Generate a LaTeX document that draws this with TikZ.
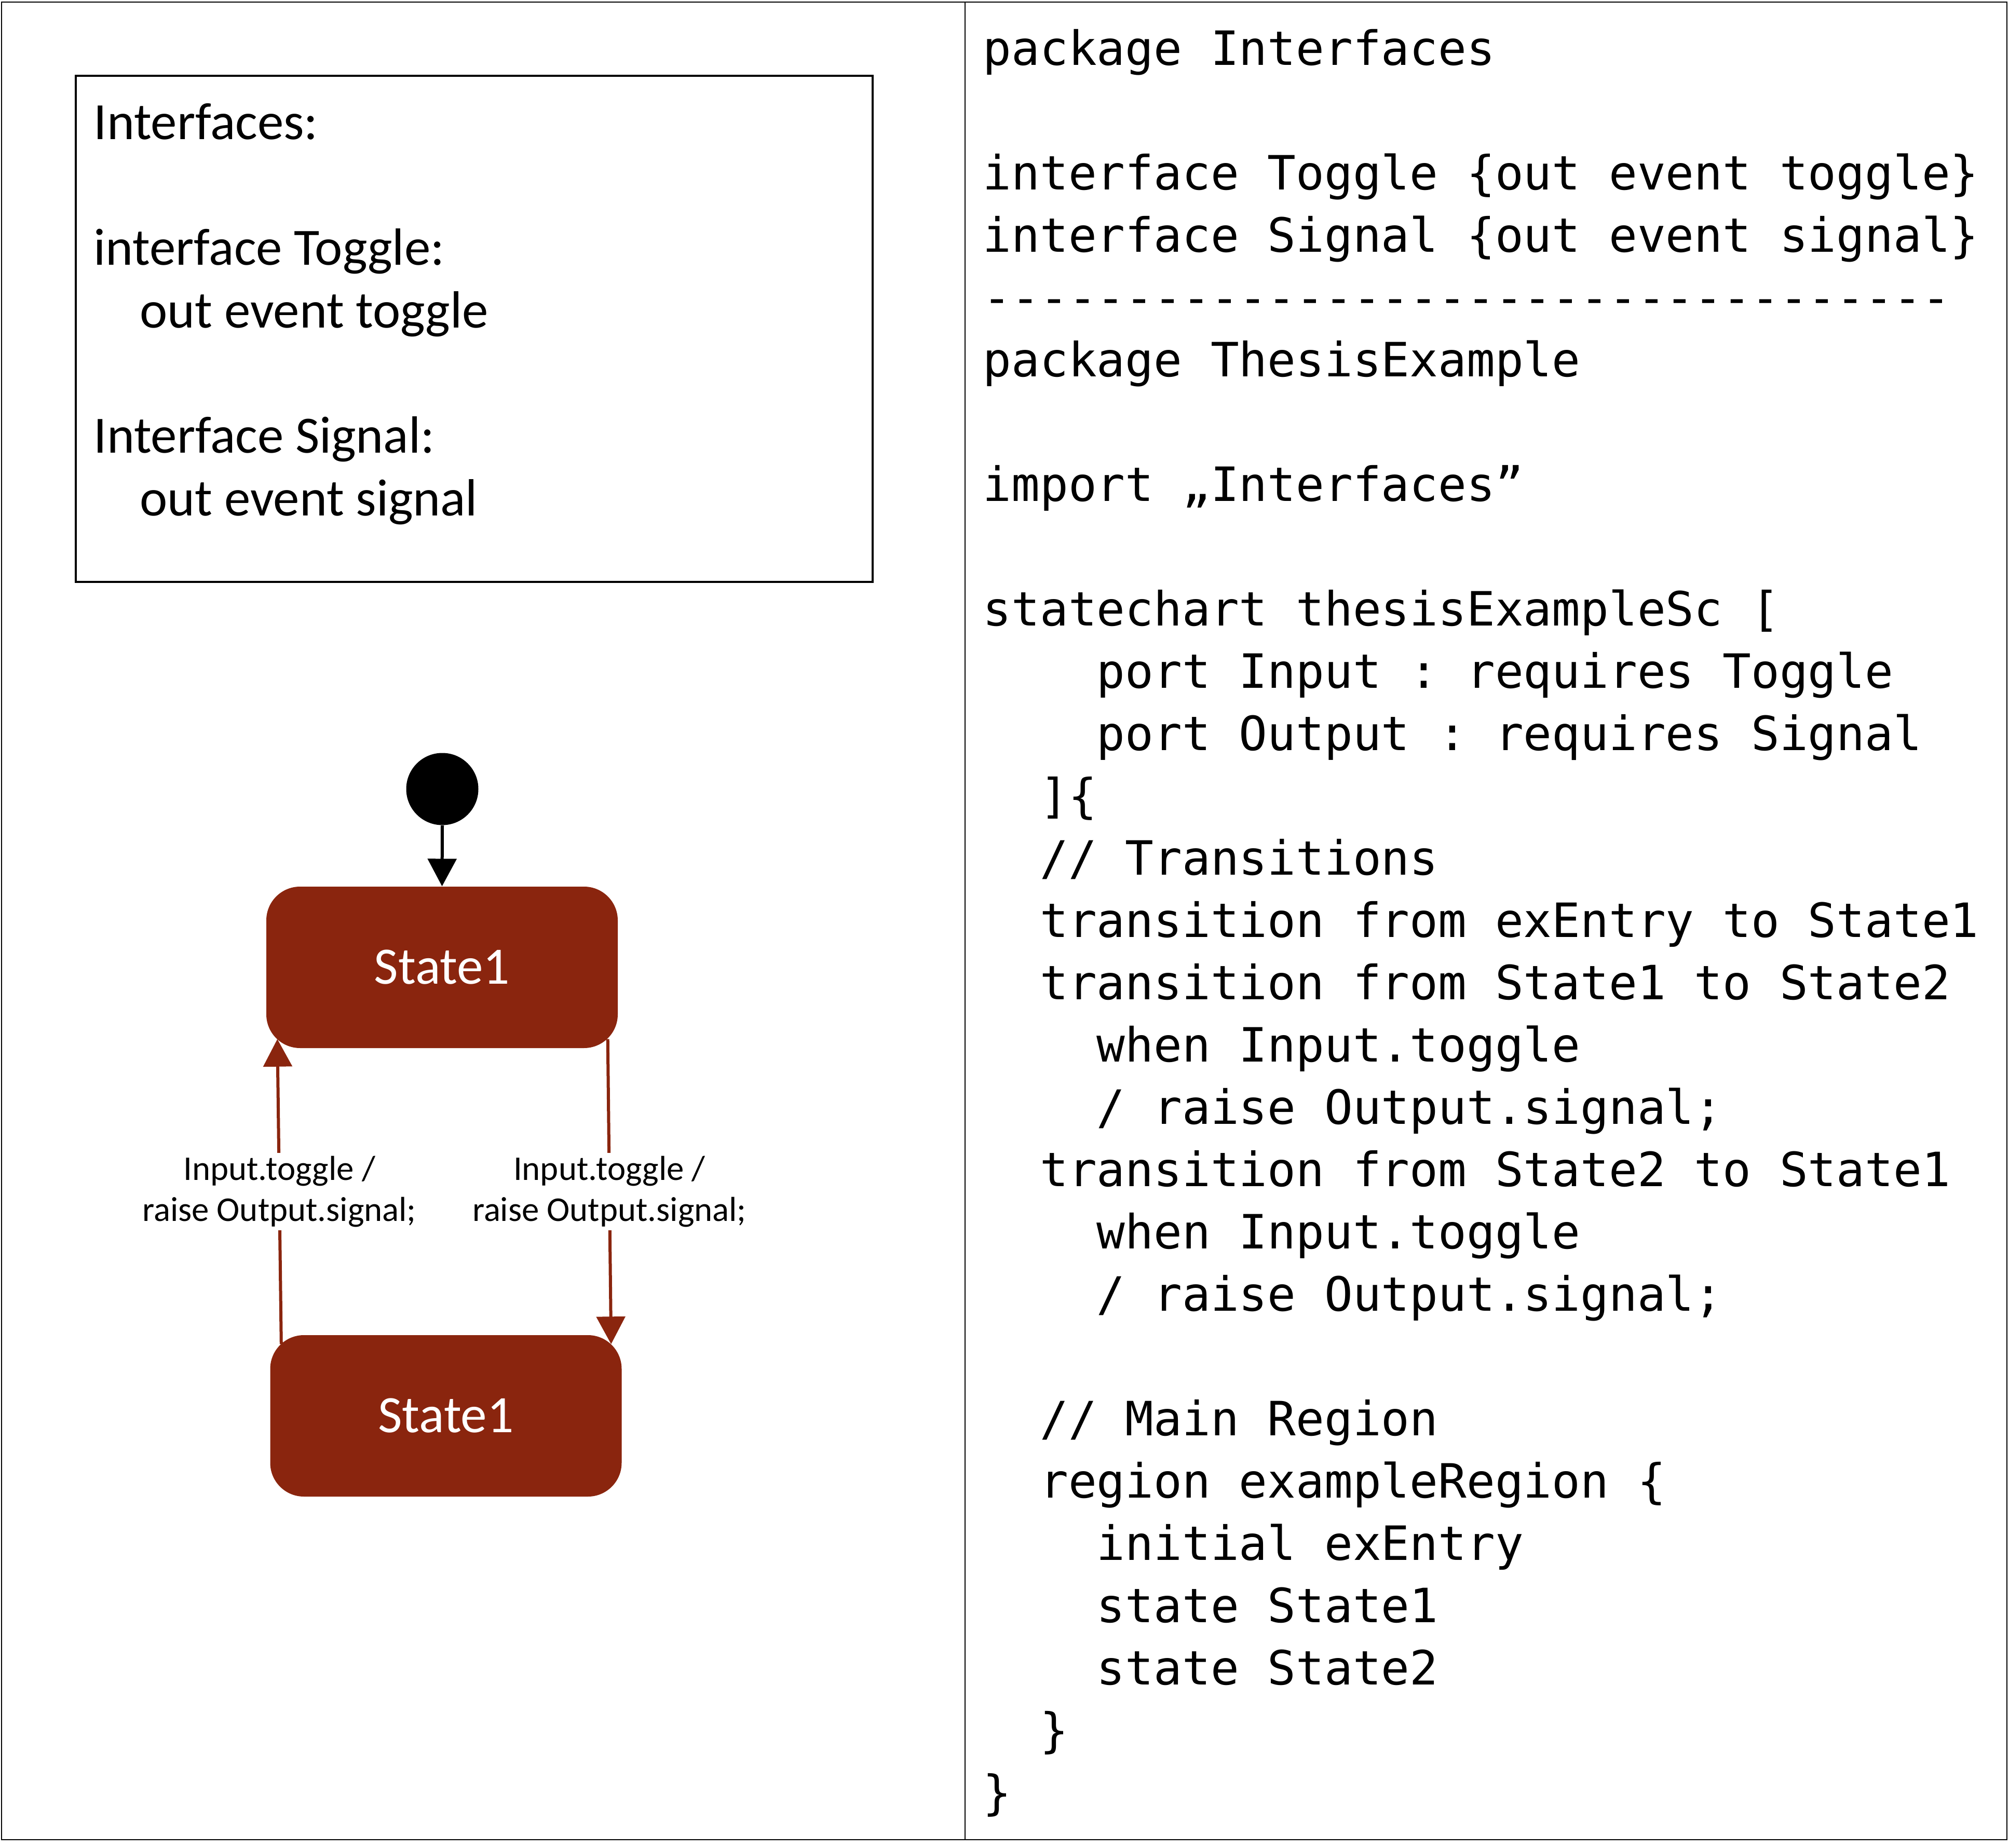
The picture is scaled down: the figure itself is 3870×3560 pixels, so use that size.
\documentclass[tikz,border=0pt]{standalone}
\usepackage{fontspec}
\setmainfont{Carlito}
\setmonofont[Ligatures=TeXOff]{DejaVu Sans Mono}
\usetikzlibrary{arrows.meta,calc}
\definecolor{stateRed}{RGB}{138,37,14}
\newcommand{\cind}[1]{\hspace*{#1\fontcharwd\font`x}}
\tikzset{ 
   frame/.style = {draw, line width=0.25mm},
   ifbox/.style = {rectangle, draw, line width=0.4mm, inner sep=0},
   iftext/.style = {align=left, inner sep=0, font=\fontsize{28.7}{34.4}\selectfont},
   codetext/.style = {align=left, inner sep=0, font=\ttfamily\fontsize{25.9}{34.14}\selectfont},
   stbox/.style = {rectangle, rounded corners=6.5mm, fill=stateRed, text=white,
                   minimum width=67.7mm, minimum height=31.1mm,
                   font=\fontsize{28.8}{34.4}\selectfont},
   initdot/.style = {circle, fill=black, minimum size=13.9mm, inner sep=0},
   initarrow/.style = {-{Triangle[length=5.3mm,width=5.5mm]}, line width=0.6mm},
   trans/.style = {-{Triangle[length=5.3mm,width=5.5mm]}, line width=0.6mm, draw=stateRed},
   lbl/.style = {fill=white, align=center, inner sep=0.6mm, text=black,
                 font=\fontsize{19}{22.5}\selectfont},
}
\begin{document}
\begin{tikzpicture}[x=0.1mm,y=-0.1mm]
   \useasboundingbox (0,0) rectangle (3870,3560);

   % panels
   \draw[frame] (3,4) rectangle (3866,3544);
   \draw[frame] (1859,4) -- (1859,3544);

   % interface box
   \node[
      ifbox,
      minimum width=153.5mm,
      minimum height=97.5mm,
   ] (ifbox) at (913.5,633.5) {};

   \node[
      iftext,
      anchor=north west,
   ] (iftext) at (180,183) {\strut Interfaces:\\
      \mbox{}\\
      interface Toggle:\\
      \hspace*{8.9mm}out event toggle\\
      \mbox{}\\
      Interface Signal:\\
      \hspace*{8.9mm}out event signal};

   % statechart
   \node[initdot] (init) at (852,1520) {};
   \node[stbox] (s1) at (851.5,1863.5) {State1};
   \node[stbox] (s2) at (859,2727.5) {State1};

   \draw[initarrow] (init.south) -- (s1.north);
   \draw[trans] ($(s2.north west)+(22,18)$) -- node[lbl]{Input.toggle /\\raise Output.signal;} ($(s1.south west)+(22,-18)$);
   \draw[trans] ($(s1.south east)+(-20,-18)$) -- node[lbl]{Input.toggle /\\raise Output.signal;} ($(s2.north east)+(-21,18)$);

   % textual model
   \node[
      codetext,
      anchor=north west,
   ] (code) at (1893,41) {\strut package Interfaces\\
      \mbox{}\\
      interface Toggle \{out event toggle\}\\
      interface Signal \{out event signal\}\\
      ----------------------------------\\
      package ThesisExample\\
      \mbox{}\\
      import „Interfaces”\\
      \mbox{}\\
      statechart thesisExampleSc [\\
      \cind{4}port Input : requires Toggle\\
      \cind{4}port Output : requires Signal\\
      \cind{2}]\{\\
      \cind{2}// Transitions\\
      \cind{2}transition from exEntry to State1\\
      \cind{2}transition from State1 to State2\\
      \cind{4}when Input.toggle\\
      \cind{4}/ raise Output.signal;\\
      \cind{2}transition from State2 to State1\\
      \cind{4}when Input.toggle\\
      \cind{4}/ raise Output.signal;\\
      \mbox{}\\
      \cind{2}// Main Region\\
      \cind{2}region exampleRegion \{\\
      \cind{4}initial exEntry\\
      \cind{4}state State1\\
      \cind{4}state State2\\
      \cind{2}\}\\
      \}};

\end{tikzpicture}
\end{document}
